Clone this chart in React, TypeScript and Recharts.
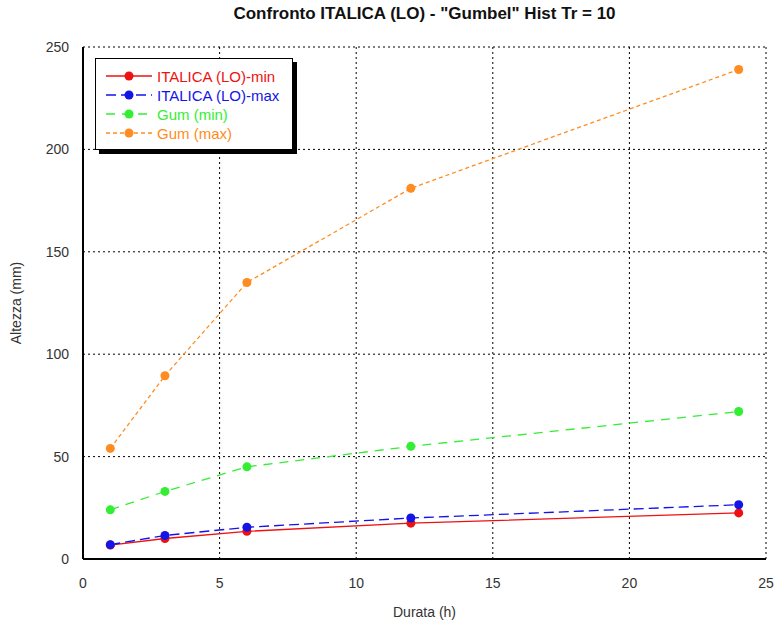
import { CartesianGrid, Line, LineChart, XAxis, YAxis } from "recharts";

const durations = [1, 3, 6, 12, 24];
const italicaMin = [6.8, 10, 13.5, 17.5, 22.5];
const italicaMax = [7, 11.5, 15.5, 20, 26.5];
const gumMin = [24, 33, 45, 55, 72];
const gumMax = [54, 89.5, 135, 181, 239];
const xTicks = [0, 5, 10, 15, 20, 25];
const yTicks = [0, 50, 100, 150, 200, 250];

const series = [
  { key: "rmin", name: "ITALICA (LO)-min", color: "#ee1111", dash: undefined as string | undefined },
  { key: "rmax", name: "ITALICA (LO)-max", color: "#1414e6", dash: "10 5" },
  { key: "gmin", name: "Gum (min)", color: "#33ee33", dash: "9 7" },
  { key: "gmax", name: "Gum (max)", color: "#ff8c20", dash: "4 3" },
];

const data = durations.map((d, i) => ({
  x: d,
  rmin: italicaMin[i],
  rmax: italicaMax[i],
  gmin: gumMin[i],
  gmax: gumMax[i],
}));

const font = "'Liberation Sans', Arial, sans-serif";

function LegendBox() {
  return (
    <div style={{ position: "absolute", left: 95, top: 58, width: 202, height: 96 }}>
      <div style={{ position: "absolute", left: 4, top: 4, width: 198, height: 92, background: "#000" }} />
      <div
        style={{
          position: "absolute",
          left: 0,
          top: 0,
          width: 196,
          height: 90,
          background: "#fff",
          border: "1px solid #000",
          fontFamily: font,
          fontSize: 15,
        }}
      >
        {series.map((s, i) => (
          <div key={s.key} style={{ position: "absolute", left: 8, top: 8 + i * 19, height: 18, display: "flex", alignItems: "center" }}>
            <svg width={50} height={12}>
              <line x1={2} y1={6} x2={48} y2={6} stroke={s.color} strokeWidth={1.3} strokeDasharray={s.dash} />
              <circle cx={25} cy={6} r={4.5} fill={s.color} />
            </svg>
            <span style={{ color: s.color, marginLeft: 3 }}>{s.name}</span>
          </div>
        ))}
      </div>
    </div>
  );
}

export default function App() {
  return (
    <div style={{ position: "absolute", left: 0, top: 0, width: 775, height: 625, background: "#fff" }}>
      <LineChart width={775} height={625} data={data} margin={{ top: 47, right: 9, left: 43, bottom: 36 }}>
        <CartesianGrid stroke="#000" strokeDasharray="2 3" strokeWidth={1} />
        <XAxis
          dataKey="x"
          type="number"
          domain={[0, 25]}
          ticks={xTicks}
          tickLine={false}
          axisLine={{ stroke: "#000", strokeWidth: 2 }}
          tick={{ fill: "#333", fontSize: 14, fontFamily: font }}
          tickMargin={13}
          height={30}
          label={{ value: "Durata (h)", position: "insideBottom", offset: -28, fill: "#333", fontSize: 14, fontFamily: font }}
        />
        <XAxis xAxisId="top" orientation="top" type="number" domain={[0, 25]} tick={false} tickLine={false} height={0} axisLine={{ stroke: "#000", strokeWidth: 1.5 }} />
        <YAxis
          type="number"
          domain={[0, 250]}
          ticks={yTicks}
          tickLine={false}
          axisLine={{ stroke: "#000", strokeWidth: 2 }}
          tick={{ fill: "#333", fontSize: 14, fontFamily: font }}
          tickMargin={8}
          width={40}
          label={{ value: "Altezza (mm)", angle: -90, position: "insideLeft", offset: -27, fill: "#333", fontSize: 14, fontFamily: font, style: { textAnchor: "middle" } }}
        />
        <YAxis yAxisId="right" orientation="right" type="number" domain={[0, 250]} tick={false} tickLine={false} width={0} axisLine={{ stroke: "#000", strokeWidth: 1.5 }} />
        {series.map((s) => (
          <Line
            key={s.key}
            type="linear"
            dataKey={s.key}
            name={s.name}
            stroke={s.color}
            strokeWidth={1.3}
            strokeDasharray={s.dash}
            dot={{ r: 4.5, fill: s.color, stroke: s.color, strokeWidth: 0 }}
            isAnimationActive={false}
          />
        ))}
      </LineChart>
      <div
        style={{
          position: "absolute",
          left: 83,
          width: 683,
          top: 4,
          textAlign: "center",
          fontFamily: font,
          fontWeight: "bold",
          fontSize: 17,
          color: "#111",
        }}
      >
        Confronto ITALICA (LO) - "Gumbel" Hist Tr = 10
      </div>
      <LegendBox />
    </div>
  );
}
